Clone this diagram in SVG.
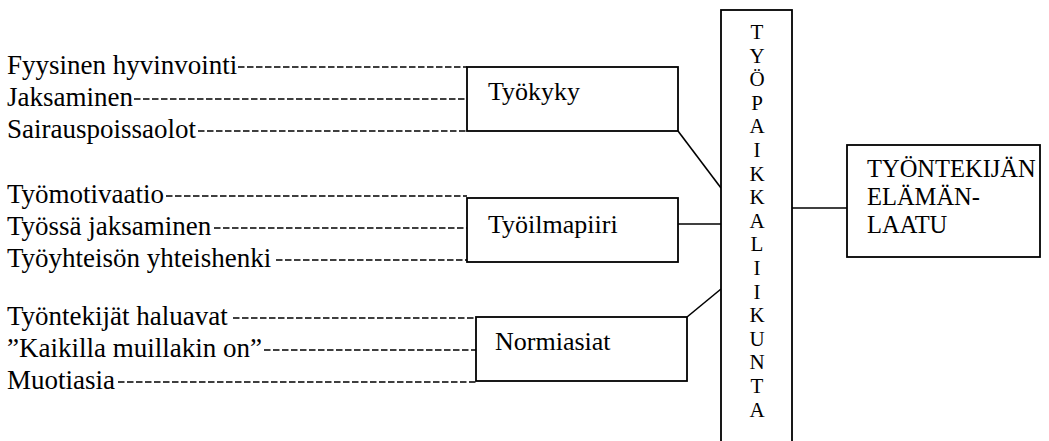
<svg xmlns="http://www.w3.org/2000/svg" width="1049" height="441" viewBox="0 0 1049 441">
<style>
  text { font-family: "Liberation Serif", "Times New Roman", serif; fill: #000; }
  .lt { font-size: 27px; }
  .bl { font-size: 26px; }
  .vt { font-size: 21px; text-anchor: middle; }
  .rt { font-size: 24.5px; }
  .box { fill: #fff; stroke: #000; stroke-width: 1.8; }
  .ln { stroke: #000; stroke-width: 1.6; fill: none; }
  .dash { stroke: #000; stroke-width: 1.4; stroke-dasharray: 6.5 2.5; fill: none; }
</style>
<rect width="1049" height="441" fill="#fff"/>

<g id="connectors">
  <line class="dash" x1="238" y1="67" x2="467" y2="67"/>
  <line class="dash" x1="134" y1="99" x2="467" y2="99"/>
  <line class="dash" x1="198" y1="131" x2="467" y2="131"/>
  <line class="dash" x1="166" y1="196" x2="467" y2="196"/>
  <line class="dash" x1="214" y1="228" x2="467" y2="228"/>
  <line class="dash" x1="276" y1="260" x2="467" y2="260"/>
  <line class="dash" x1="233" y1="318" x2="476" y2="318"/>
  <line class="dash" x1="264" y1="350" x2="476" y2="350"/>
  <line class="dash" x1="118" y1="382" x2="476" y2="382"/>
  <line class="ln" x1="678" y1="131" x2="721" y2="188"/>
  <line class="ln" x1="678" y1="224" x2="721" y2="224"/>
  <line class="ln" x1="687" y1="317" x2="721" y2="289"/>
  <line class="ln" x1="792" y1="208" x2="847" y2="208"/>
</g>

<g id="factors">
  <text class="lt" x="7" y="74">Fyysinen hyvinvointi</text>
  <text class="lt" x="7" y="106">Jaksaminen</text>
  <text class="lt" x="7" y="138">Sairauspoissaolot</text>
  <text class="lt" x="7" y="203">Työmotivaatio</text>
  <text class="lt" x="7" y="235">Työssä jaksaminen</text>
  <text class="lt" x="7" y="267">Työyhteisön yhteishenki</text>
  <text class="lt" x="7" y="325">Työntekijät haluavat</text>
  <text class="lt" x="7" y="357">”Kaikilla muillakin on”</text>
  <text class="lt" x="7" y="389">Muotiasia</text>
</g>

<g id="tyokyky">
  <rect class="box" x="467" y="67" width="211" height="64"/>
  <text class="bl" x="488" y="100">Työkyky</text>
</g>

<g id="tyoilmapiiri">
  <rect class="box" x="467" y="198" width="211" height="64"/>
  <text class="bl" x="488" y="233">Työilmapiiri</text>
</g>

<g id="normiasiat">
  <rect class="box" x="476" y="317" width="211" height="64"/>
  <text class="bl" x="495" y="350">Normiasiat</text>
</g>

<g id="tyopaikkaliikunta">
  <rect class="box" x="721" y="10" width="71" height="445"/>
  <text class="vt" x="757" y="39">T</text>
  <text class="vt" x="757" y="62.6">Y</text>
  <text class="vt" x="757" y="86.2">Ö</text>
  <text class="vt" x="757" y="109.8">P</text>
  <text class="vt" x="757" y="133.4">A</text>
  <text class="vt" x="757" y="157">I</text>
  <text class="vt" x="757" y="180.6">K</text>
  <text class="vt" x="757" y="204.2">K</text>
  <text class="vt" x="757" y="227.8">A</text>
  <text class="vt" x="757" y="251.4">L</text>
  <text class="vt" x="757" y="275">I</text>
  <text class="vt" x="757" y="298.6">I</text>
  <text class="vt" x="757" y="322.2">K</text>
  <text class="vt" x="757" y="345.8">U</text>
  <text class="vt" x="757" y="369.4">N</text>
  <text class="vt" x="757" y="393">T</text>
  <text class="vt" x="757" y="416.6">A</text>
</g>

<g id="elamanlaatu">
  <rect class="box" x="847" y="145" width="193" height="112"/>
  <text class="rt" x="867" y="177">TYÖNTEKIJÄN</text>
  <text class="rt" x="867" y="205">ELÄMÄN-</text>
  <text class="rt" x="867" y="233">LAATU</text>
</g>
</svg>
